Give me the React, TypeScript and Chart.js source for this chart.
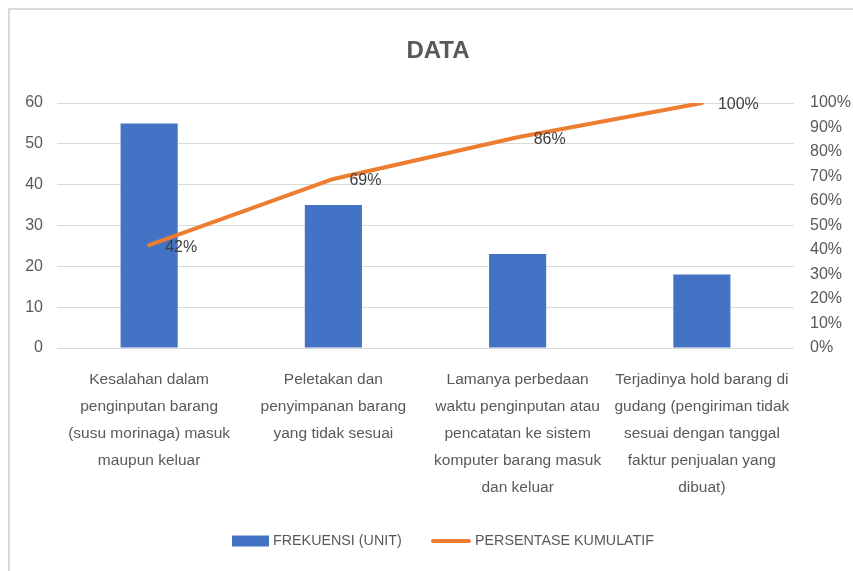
import React, { useEffect, useRef } from "react";
import { Chart, registerables } from "chart.js";

Chart.register(...registerables);

const categories: string[][] = [
  ["Kesalahan dalam", "penginputan barang", "(susu morinaga) masuk", "maupun keluar"],
  ["Peletakan dan", "penyimpanan barang", "yang tidak sesuai"],
  ["Lamanya perbedaan", "waktu penginputan atau", "pencatatan ke sistem", "komputer barang masuk", "dan keluar"],
  ["Terjadinya hold barang di", "gudang (pengiriman tidak", "sesuai dengan tanggal", "faktur penjualan yang", "dibuat)"],
];
const frekuensi: number[] = [55, 35, 23, 18];
const kumulatif: number[] = [42, 69, 86, 100];
const seriesNames: string[] = ["FREKUENSI (UNIT)", "PERSENTASE KUMULATIF"];
const chartTitle = "DATA";

const FONT = "'Liberation Sans', Arial, sans-serif";
const TEXT = "#595959";
const BLUE = "#4472C4";
const ORANGE = "#ED7D31";

const overlayPlugin = {
  id: "overlay",
  afterDatasetsDraw(chart: any) {
    const ctx = chart.ctx;
    ctx.save();
    const meta = chart.getDatasetMeta(1);
    ctx.font = `16px ${FONT}`;
    ctx.fillStyle = "#404040";
    ctx.textAlign = "left";
    ctx.textBaseline = "middle";
    meta.data.forEach((pt: any, i: number) => {
      ctx.fillText(`${kumulatif[i]}%`, pt.x + 16, pt.y + 2);
    });
    ctx.restore();
  },
  afterDraw(chart: any) {
    const ctx = chart.ctx;
    ctx.save();
    ctx.font = `bold 24px ${FONT}`;
    ctx.fillStyle = TEXT;
    ctx.textAlign = "center";
    ctx.textBaseline = "middle";
    ctx.fillText(chartTitle, 438, 51);
    const ly = 541;
    ctx.fillStyle = BLUE;
    ctx.fillRect(232, ly - 5.5, 37, 11);
    ctx.font = `14.3px ${FONT}`;
    ctx.fillStyle = TEXT;
    ctx.textAlign = "left";
    ctx.fillText(seriesNames[0], 273, ly);
    ctx.strokeStyle = ORANGE;
    ctx.lineWidth = 4;
    ctx.lineCap = "round";
    ctx.beginPath();
    ctx.moveTo(433, ly);
    ctx.lineTo(469, ly);
    ctx.stroke();
    ctx.fillText(seriesNames[1], 475, ly);
    ctx.restore();
  },
};

export default function App() {
  const ref = useRef<HTMLCanvasElement | null>(null);
  useEffect(() => {
    if (!ref.current) return;
    const chart = new Chart(ref.current, {
      type: "bar",
      data: {
        labels: categories,
        datasets: [
          {
            type: "bar",
            label: seriesNames[0],
            data: frekuensi,
            backgroundColor: BLUE,
            borderWidth: 0,
            barPercentage: 0.31,
            categoryPercentage: 1,
            yAxisID: "y",
            order: 2,
          },
          {
            type: "line",
            label: seriesNames[1],
            data: kumulatif,
            borderColor: ORANGE,
            backgroundColor: ORANGE,
            borderWidth: 4,
            borderCapStyle: "round",
            borderJoinStyle: "round",
            pointRadius: 0,
            tension: 0,
            yAxisID: "y1",
            order: 1,
          } as any,
        ],
      },
      options: {
        responsive: false,
        maintainAspectRatio: false,
        animation: false,
        layout: { padding: { top: 103, left: 0, right: 0, bottom: 0 } },
        plugins: {
          legend: { display: false },
          title: { display: false },
          tooltip: { enabled: false },
        },
        scales: {
          x: {
            grid: { display: false, drawTicks: false },
            border: { display: false },
            ticks: {
              color: TEXT,
              font: { family: FONT, size: 15.5, lineHeight: "27px" },
              padding: 18,
              maxRotation: 0,
              autoSkip: false,
            },
            afterFit(scale: any) {
              scale.height = 223;
            },
          },
          y: {
            position: "left",
            min: 0,
            max: 60,
            ticks: {
              stepSize: 10,
              color: TEXT,
              font: { family: FONT, size: 16 },
              padding: 14,
              autoSkip: false,
            },
            grid: { color: "#D9D9D9", lineWidth: 1, drawTicks: false },
            border: { display: false },
            afterFit(scale: any) {
              scale.width = 57;
            },
          },
          y1: {
            position: "right",
            min: 0,
            max: 100,
            ticks: {
              stepSize: 10,
              color: TEXT,
              font: { family: FONT, size: 16 },
              padding: 16,
              autoSkip: false,
              callback: (v: any) => `${v}%`,
            },
            grid: { display: false, drawTicks: false },
            border: { display: false },
            afterFit(scale: any) {
              scale.width = 59;
            },
          },
        },
      },
      plugins: [overlayPlugin],
    });
    return () => chart.destroy();
  }, []);

  return (
    <div
      style={{
        position: "fixed",
        left: 0,
        top: 0,
        width: 853,
        height: 571,
        background: "#fff",
        overflow: "hidden",
      }}
    >
      <div
        style={{
          position: "absolute",
          left: 8,
          top: 8,
          width: 900,
          height: 620,
          border: "2px solid #D9D9D9",
          boxSizing: "border-box",
        }}
      />
      <canvas
        ref={ref}
        width={853}
        height={571}
        style={{ position: "absolute", left: 0, top: 0, width: 853, height: 571 }}
      />
    </div>
  );
}
